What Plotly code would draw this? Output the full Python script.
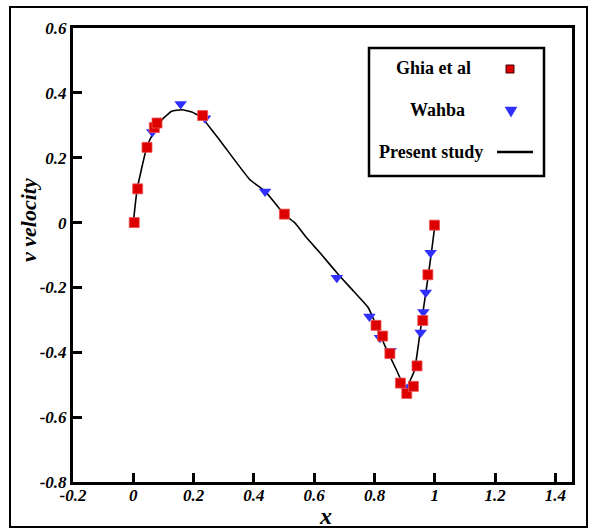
import plotly.graph_objects as go

# Ghia et al (red squares)
ghia_x = [0.003, 0.0146, 0.0454, 0.0697, 0.0786, 0.230, 0.501, 0.805, 0.827, 0.851,
          0.886, 0.907, 0.929, 0.941, 0.960, 0.977, 0.999]
ghia_v = [0.0, 0.104, 0.232, 0.293, 0.307, 0.330, 0.026, -0.317, -0.350, -0.404,
          -0.495, -0.527, -0.505, -0.442, -0.302, -0.161, -0.008]

# Wahba (blue down-triangles)
wahba_x = [0.063, 0.157, 0.238, 0.437, 0.675, 0.783, 0.818, 0.853, 0.901,
           0.953, 0.962, 0.970, 0.986]
wahba_v = [0.279, 0.366, 0.322, 0.096, -0.170, -0.290, -0.355, -0.395, -0.508,
           -0.339, -0.276, -0.216, -0.093]

# Present study (line)
present_x = [0.0, 0.013, 0.044, 0.066, 0.100, 0.127, 0.161, 0.194, 0.227, 0.265,
             0.298, 0.387, 0.437, 0.500, 0.536, 0.575, 0.619, 0.680, 0.730, 0.779,
             0.802, 0.835, 0.874, 0.903, 0.932, 0.948, 0.962, 0.978, 0.990, 1.0]
present_v = [0.0, 0.104, 0.230, 0.276, 0.322, 0.343, 0.348, 0.341, 0.324, 0.280,
             0.240, 0.132, 0.097, 0.026, -0.001, -0.047, -0.093, -0.160, -0.211, -0.262,
             -0.309, -0.381, -0.457, -0.512, -0.457, -0.360, -0.268, -0.165, -0.083, -0.010]

x_ticks = [-0.2, 0, 0.2, 0.4, 0.6, 0.8, 1, 1.2, 1.4]
x_tick_labels = ["-0.2", "0", "0.2", "0.4", "0.6", "0.8", "1", "1.2", "1.4"]
y_ticks = [-0.8, -0.6, -0.4, -0.2, 0, 0.2, 0.4, 0.6]
y_tick_labels = ["-0.8", "-0.6", "-0.4", "-0.2", "0", "0.2", "0.4", "0.6"]

SERIF = "Liberation Serif"
RED = "#dd0000"
BLUE = "#2f2fff"

fig = go.Figure()
fig.add_trace(go.Scatter(x=present_x, y=present_v, mode="lines",
                         line=dict(color="black", width=1.6, shape="spline", smoothing=0.4),
                         name="Present study", showlegend=False))
fig.add_trace(go.Scatter(x=wahba_x, y=wahba_v, mode="markers",
                         marker=dict(symbol="triangle-down", size=11, color=BLUE,
                                     line=dict(width=0)),
                         name="Wahba", showlegend=False))
fig.add_trace(go.Scatter(x=ghia_x, y=ghia_v, mode="markers",
                         marker=dict(symbol="square", size=10, color=RED,
                                     line=dict(width=0.8, color="#f05050")),
                         name="Ghia et al", showlegend=False))

tickfont = dict(family=SERIF, size=17, color="black", weight="bold", style="italic")

fig.update_xaxes(range=[-0.2, 1.455], tickvals=x_ticks, ticktext=x_tick_labels,
                 ticks="inside", ticklen=9, tickwidth=3, tickcolor="black",
                 showline=True, linewidth=3, linecolor="black", mirror=True,
                 showgrid=False, zeroline=False, tickfont=tickfont,
                 ticklabelstandoff=-4)
fig.update_yaxes(range=[-0.8, 0.6], tickvals=y_ticks, ticktext=y_tick_labels,
                 ticks="inside", ticklen=9, tickwidth=3, tickcolor="black",
                 showline=True, linewidth=3, linecolor="black", mirror=True,
                 showgrid=False, zeroline=False, tickfont=tickfont)

W, H = 589, 529
L, R, T, B = 73, 17, 28, 47
pw, ph = W - L - R, H - T - B

def px(xpix):
    return (xpix - L) / pw

def py(ypix):
    return (H - B - ypix) / ph

shapes = []
# outer frame
shapes.append(dict(type="rect", xref="paper", yref="paper",
                   x0=px(10), x1=px(587), y0=py(527), y1=py(7),
                   line=dict(color="black", width=2)))
# legend box
shapes.append(dict(type="rect", xref="paper", yref="paper",
                   x0=px(369), x1=px(544), y0=py(176), y1=py(48),
                   line=dict(color="black", width=2.5), fillcolor="white"))
# legend symbols
shapes.append(dict(type="rect", xref="paper", yref="paper",
                   x0=px(506), x1=px(514), y0=py(73), y1=py(65),
                   line=dict(color="#400000", width=1), fillcolor=RED))
shapes.append(dict(type="path", xref="paper", yref="paper",
                   path=f"M {px(505)},{py(107)} L {px(517)},{py(107)} L {px(511)},{py(117)} Z",
                   line=dict(color=BLUE, width=0.5), fillcolor=BLUE))
shapes.append(dict(type="line", xref="paper", yref="paper",
                   x0=px(497), x1=px(533), y0=py(152), y1=py(152),
                   line=dict(color="black", width=2.5)))

legfont = dict(family=SERIF, size=18, color="black", weight="bold")
annotations = [
    dict(text="Ghia et al", x=px(433), y=py(68), xref="paper", yref="paper",
         showarrow=False, font=legfont, xanchor="center", yanchor="middle"),
    dict(text="Wahba", x=px(437), y=py(110), xref="paper", yref="paper",
         showarrow=False, font=legfont, xanchor="center", yanchor="middle"),
    dict(text="Present study", x=px(431), y=py(152), xref="paper", yref="paper",
         showarrow=False, font=legfont, xanchor="center", yanchor="middle"),
    dict(text="x", x=px(325), y=py(516), xref="paper", yref="paper",
         showarrow=False, xanchor="center", yanchor="middle",
         font=dict(family=SERIF, size=24, color="black", weight="bold", style="italic")),
    dict(text="v velocity", x=px(29), y=py(220), xref="paper", yref="paper",
         showarrow=False, xanchor="center", yanchor="middle", textangle=-90,
         font=dict(family=SERIF, size=22, color="black", weight="bold", style="italic")),
]

fig.update_layout(width=W, height=H, margin=dict(l=L, r=R, t=T, b=B),
                  paper_bgcolor="white", plot_bgcolor="white",
                  shapes=shapes, annotations=annotations, showlegend=False)

fig.write_html("out.html", config={"displayModeBar": False},
               post_script="document.body.style.margin='0';document.body.style.overflow='hidden';")
